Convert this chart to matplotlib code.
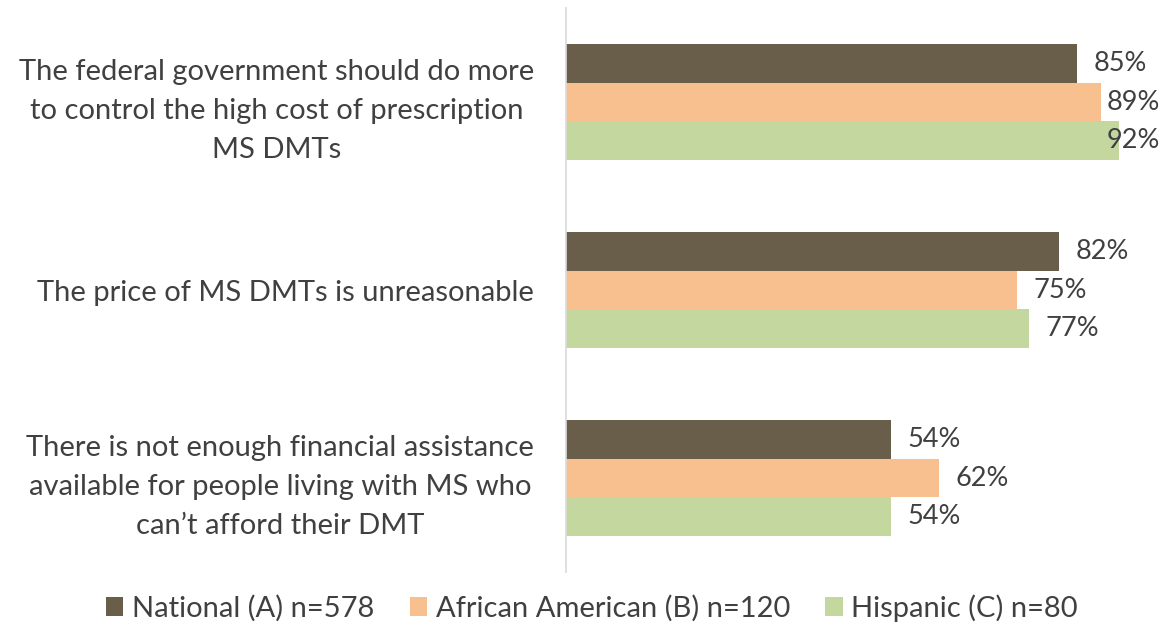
import matplotlib
matplotlib.use("Agg")
import matplotlib.pyplot as plt
from matplotlib.patches import Patch

categories = [
    "The federal government should do more\nto control the high cost of prescription\nMS DMTs",
    "The price of MS DMTs is unreasonable",
    "There is not enough financial assistance\navailable for people living with MS who\ncan\u2019t afford their DMT",
]
series_names = ["National (A) n=578", "African American (B) n=120", "Hispanic (C) n=80"]
national = [85, 82, 54]
african_american = [89, 75, 62]
hispanic = [92, 77, 54]
values = [national, african_american, hispanic]
colors = ["#695E4A", "#F9C08F", "#C4D79F"]
text_color = "#404040"

plt.rcParams['font.family'] = ['Lato', 'DejaVu Sans']

fig = plt.figure(figsize=(11.63, 6.24), dpi=100)
ax = fig.add_axes([566/1163, 1-572/624, 1-566/1163, (572-8)/624])

bh = 0.207
n = len(categories)
texts = []
for si, (vals, col) in enumerate(zip(values, colors)):
    for ci, v in enumerate(vals):
        y = ci + (si - 1) * bh
        ax.barh(y, v, height=bh, color=col, edgecolor='none')
        t = ax.text(v + 2.8, y, f"{v}%", va='center', ha='left',
                    fontsize=19.5, color=text_color)
        texts.append(t)

ax.set_xlim(0, 99.3)
ax.set_ylim(n - 0.5, -0.5)
ax.set_yticks(range(n))
ax.set_yticklabels(categories, fontsize=21, color=text_color,
                   multialignment='center', linespacing=1.62)
ax.tick_params(axis='y', length=0, pad=23)
ax.set_xticks([])
for s in ['top', 'right', 'bottom']:
    ax.spines[s].set_visible(False)
ax.spines['left'].set_color('#D9D9D9')
ax.spines['left'].set_linewidth(1.2)

# clamp labels inside the right edge
fig.canvas.draw()
r = fig.canvas.get_renderer()
limit_px = 1160
for t in texts:
    bb = t.get_window_extent(r)
    if bb.x1 > limit_px:
        shift = bb.x1 - limit_px
        x, y = t.get_position()
        xd = ax.transData.inverted().transform((ax.transData.transform((x, y))[0] - shift, 0))[0]
        t.set_x(xd)

handles = [Patch(facecolor=c, edgecolor='none') for c in colors]
fig.legend(handles, series_names, loc='center', bbox_to_anchor=(592/1163, 1-608/624),
           ncol=3, frameon=False, fontsize=21, labelcolor=text_color,
           handlelength=0.6, handleheight=0.6, handletextpad=0.3, columnspacing=1.2,
           borderpad=0)

fig.savefig("out.png", dpi=100)
